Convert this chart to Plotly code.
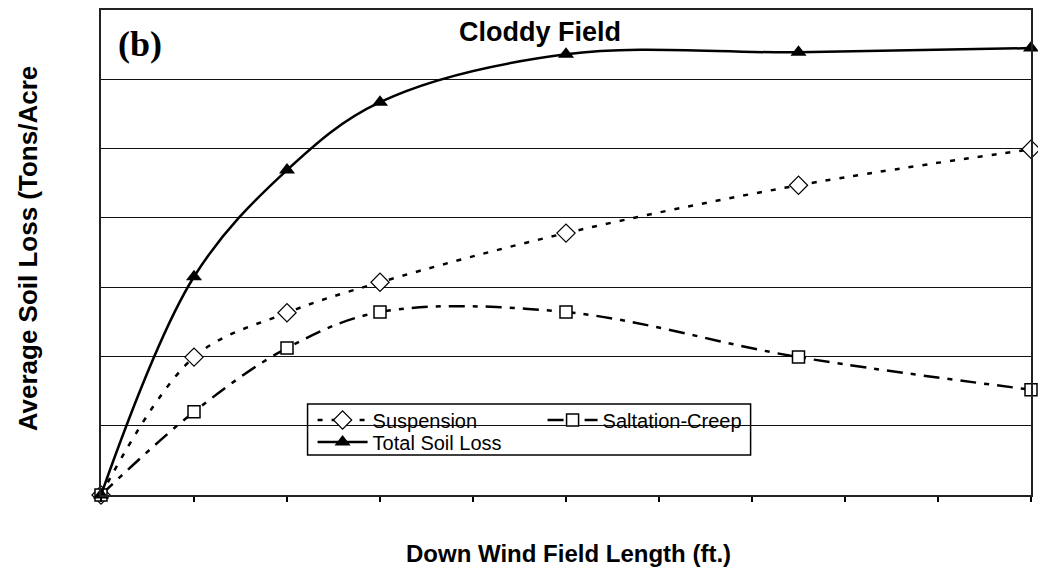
import plotly.graph_objects as go

# Down wind field length (ft.)
field_length = [0, 100, 200, 300, 500, 750, 1000]
suspension = [0.0, 1.99, 2.63, 3.07, 3.78, 4.47, 4.99]
saltation_creep = [0.0, 1.20, 2.12, 2.64, 2.64, 1.99, 1.52]
total_soil_loss = [0.0, 3.15, 4.69, 5.67, 6.36, 6.39, 6.45]

x_ticks = list(range(0, 1001, 100))
y_ticks = list(range(0, 8))

FONT = "Liberation Sans, Arial, sans-serif"

fig = go.Figure()

fig.add_trace(go.Scatter(
    x=field_length, y=suspension, name="Suspension", legend="legend",
    mode="lines+markers", line=dict(color="black", width=2.5, dash="5px,9px", shape="spline", smoothing=1.0),
    marker=dict(symbol="diamond", size=14, color="white", line=dict(color="black", width=1.2)),
    cliponaxis=False,
))
fig.add_trace(go.Scatter(
    x=field_length, y=saltation_creep, name="Saltation-Creep", legend="legend",
    mode="lines+markers", line=dict(color="black", width=2.5, dash="16px,8px,5px,8px", shape="spline", smoothing=1.0),
    marker=dict(symbol="square", size=12, color="white", line=dict(color="black", width=1.5)),
    cliponaxis=False,
))
fig.add_trace(go.Scatter(
    x=field_length, y=total_soil_loss, name="Total Soil Loss", legend="legend2",
    mode="lines+markers", line=dict(color="black", width=2.5, shape="spline", smoothing=1.0),
    marker=dict(symbol="triangle-up", size=14, color="black"),
    cliponaxis=False,
))

legend_common = dict(
    xanchor="left", yanchor="middle", orientation="h",
    entrywidth=165, itemwidth=50, borderwidth=0, bgcolor="rgba(0,0,0,0)",
    font=dict(size=20, family=FONT, color="black"),
)

fig.update_layout(
    width=1038, height=573,
    margin=dict(l=101, r=5, t=10, b=78),
    paper_bgcolor="white", plot_bgcolor="white",
    font=dict(family=FONT, color="black"),
    showlegend=True,
    legend=dict(x=0.2275, y=0.1546, **legend_common),
    legend2=dict(x=0.2275, y=0.1093, **legend_common),
    xaxis=dict(
        range=[0, 1000], tickvals=x_ticks, showticklabels=False,
        ticks="outside", ticklen=5, tickcolor="black", tickwidth=1.5,
        showgrid=False, zeroline=False,
        showline=True, linecolor="#222", linewidth=2, mirror=True,
    ),
    yaxis=dict(
        range=[0, 7], tickvals=y_ticks, showticklabels=False, ticks="",
        showgrid=True, gridcolor="#111", gridwidth=1.2, zeroline=False,
        showline=True, linecolor="#222", linewidth=2, mirror=True,
    ),
    shapes=[
        dict(type="rect", xref="paper", yref="paper",
             x0=0.2221, x1=0.6985, y0=0.0825, y1=0.1876,
             fillcolor="white", line=dict(color="black", width=1.5), layer="below"),
    ],
    annotations=[
        dict(text="<b>Cloddy Field</b>", x=0.472, y=0.955, xref="paper", yref="paper",
             xanchor="center", yanchor="middle",
             showarrow=False, font=dict(size=27, family=FONT)),
        dict(text="<b>(b)</b>", x=0.0418, y=0.93, xref="paper", yref="paper",
             xanchor="center", yanchor="middle",
             showarrow=False, font=dict(size=36, family="Liberation Serif, Times New Roman, serif")),
        dict(text="<b>Average Soil Loss (Tons/Acre</b>", x=-0.0783, y=0.509, xref="paper", yref="paper",
             xanchor="center", yanchor="middle",
             showarrow=False, textangle=-90, font=dict(size=26, family=FONT)),
        dict(text="<b>Down Wind Field Length (ft.)</b>", x=0.503, y=-0.1196, xref="paper", yref="paper",
             xanchor="center", yanchor="middle",
             showarrow=False, font=dict(size=24, family=FONT)),
    ],
)

fig.write_html("out.html", config={"displayModeBar": False},
               post_script="document.body.style.margin='0';")
